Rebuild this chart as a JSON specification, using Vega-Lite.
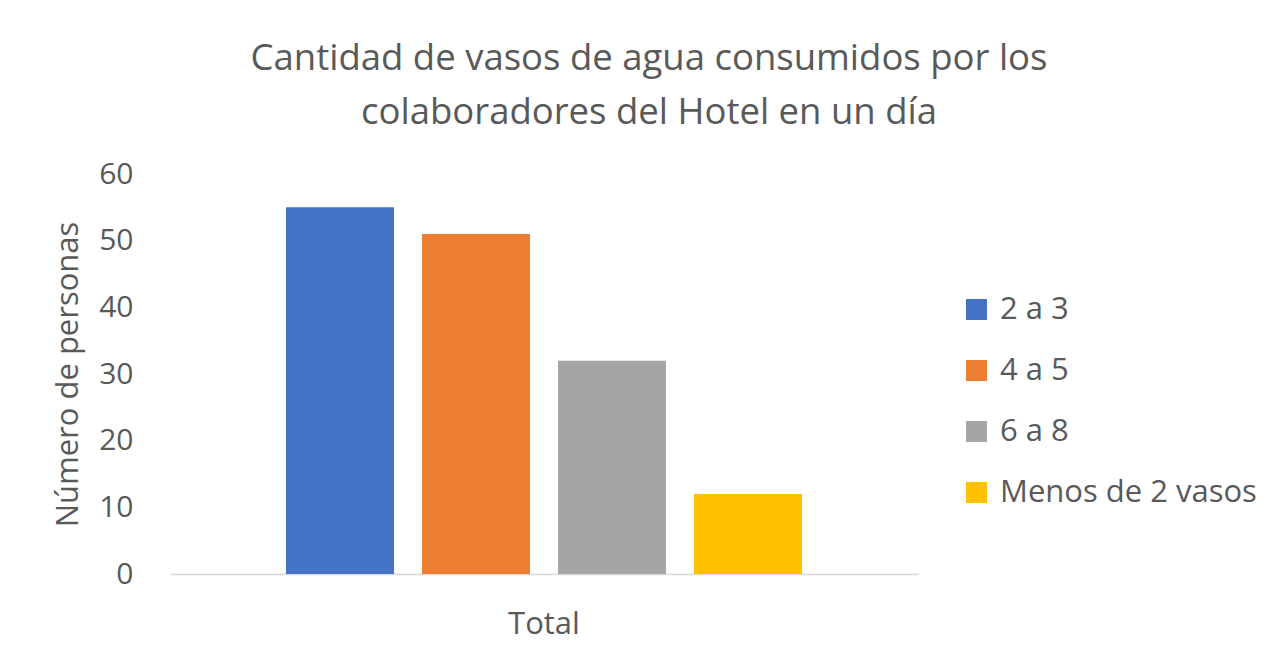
{
  "$schema": "https://vega.github.io/schema/vega-lite/v6.json",
  "autosize": "none",
  "width": 748,
  "height": 400,
  "padding": {"left": 170, "top": 174, "right": 364, "bottom": 82},
  "background": "white",
  "config": {
    "view": {"stroke": null},
    "font": "Open Sans",
    "text": {"color": "#595959"}
  },
  "title": {
    "text": ["Cantidad de vasos de agua consumidos por los", "colaboradores del Hotel en un día"],
    "fontSize": 36.5,
    "fontWeight": "normal",
    "color": "#595959",
    "lineHeight": 54,
    "anchor": "middle",
    "dx": 105,
    "offset": 28
  },
  "data": {
    "values": [
      {"grupo": "Total", "categoria": "2 a 3", "personas": 55},
      {"grupo": "Total", "categoria": "4 a 5", "personas": 51},
      {"grupo": "Total", "categoria": "6 a 8", "personas": 32},
      {"grupo": "Total", "categoria": "Menos de 2 vasos", "personas": 12}
    ]
  },
  "mark": {"type": "bar"},
  "encoding": {
    "x": {
      "field": "grupo",
      "type": "nominal",
      "scale": {"paddingInner": 0, "paddingOuter": 0.1875},
      "axis": {
        "title": null,
        "labelAngle": 0,
        "labelFontSize": 31,
        "labelColor": "#595959",
        "labelPadding": 35,
        "ticks": false,
        "domainColor": "#d9d9d9",
        "domainWidth": 1.5
      }
    },
    "xOffset": {
      "field": "categoria",
      "type": "nominal",
      "scale": {"paddingInner": 0.206, "paddingOuter": 0.103}
    },
    "y": {
      "field": "personas",
      "type": "quantitative",
      "scale": {"domain": [0, 60]},
      "axis": {
        "title": "Número de personas",
        "titleFontSize": 31,
        "titleFontWeight": "normal",
        "titleColor": "#595959",
        "titlePadding": 14,
        "values": [0, 10, 20, 30, 40, 50, 60],
        "labelFontSize": 30,
        "labelColor": "#595959",
        "labelPadding": 37,
        "ticks": false,
        "domain": false,
        "grid": false
      }
    },
    "color": {
      "field": "categoria",
      "type": "nominal",
      "scale": {
        "domain": ["2 a 3", "4 a 5", "6 a 8", "Menos de 2 vasos"],
        "range": ["#4472C4", "#ED7D31", "#A5A5A5", "#FFC000"]
      },
      "legend": {
        "title": null,
        "orient": "none",
        "legendX": 791,
        "legendY": 120,
        "symbolType": "square",
        "symbolSize": 441,
        "symbolStrokeWidth": 0,
        "symbolOpacity": 1,
        "labelFontSize": 31,
        "labelColor": "#595959",
        "labelOffset": 8,
        "rowPadding": 29,
        "labelLimit": 400
      }
    }
  }
}
